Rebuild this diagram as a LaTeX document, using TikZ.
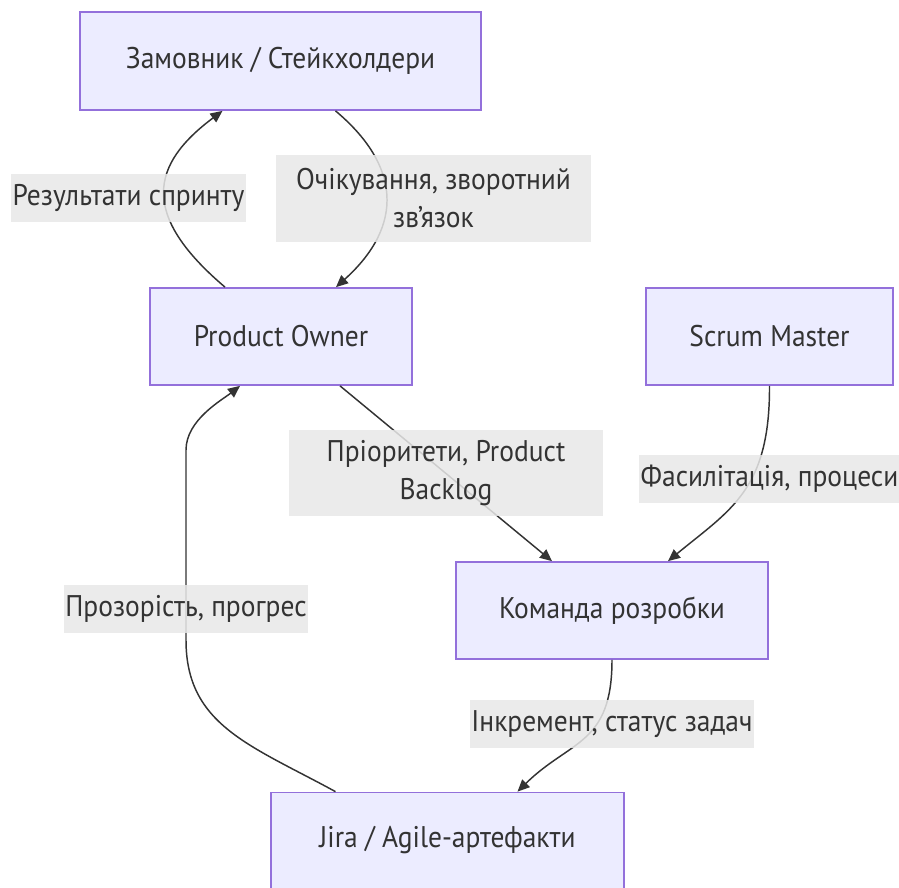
\documentclass[tikz,border=0pt]{standalone}
\usepackage{fontspec}
\setmainfont[FakeStretch=0.92]{PT Sans}
\usetikzlibrary{arrows.meta,calc}
\definecolor{boxfill}{HTML}{ECECFF}
\definecolor{boxdraw}{HTML}{9370DB}
\definecolor{lblfill}{HTML}{E8E8E8}
\definecolor{ink}{HTML}{333333}
\begin{document}
\begin{tikzpicture}[x=0.75pt,y=-0.75pt,
  box/.style={draw=boxdraw, fill=boxfill, line width=1.3pt, inner sep=0pt, text=ink,
    font=\fontsize{22.4}{28.5}\selectfont},
  lbl/.style={fill=lblfill, fill opacity=0.85, text opacity=1, text=ink, inner xsep=1pt, inner ysep=0pt,
    minimum height=36pt, align=center, font=\fontsize{22.4}{28.5}\selectfont},
  lbltwo/.style={lbl, minimum width=236pt, minimum height=65pt},
  conn/.style={draw=ink, line width=1.1pt, -{Triangle[length=9pt,width=8pt]}}
]
\useasboundingbox (0,0) rectangle (899,888);
% boxes
\node[box, minimum width=300.75pt, minimum height=73.5pt] (a) at (280.5,61) {Замовник / Стейкхолдери};
\node[box, minimum width=196.5pt, minimum height=72.75pt] (po) at (281,336.5) {Product Owner};
\node[box, minimum width=185.25pt, minimum height=72.75pt] (sm) at (769.5,336.5) {Scrum Master};
\node[box, minimum width=234pt, minimum height=72.75pt] (dev) at (612,610.5) {Команда розробки};
\node[box, minimum width=264.75pt, minimum height=72pt] (jira) at (447.5,840.5) {Jira / Agile-артефакти};
% connectors
\draw[conn] ($(po.north)+(-56,0)$) .. controls (140,215) and (150,165) .. ($(a.south)+(-58,0)$);
\draw[conn] ($(a.south)+(55,0)$) .. controls (400,165) and (405,225) .. ($(po.north)+(55,0)$);
\draw[conn] ($(po.south)+(59,0)$) -- ($(dev.north)+(-60,0)$);
\draw[conn] (sm.south) .. controls (770,490) and (730,510) .. ($(dev.north)+(56,0)$);
\draw[conn] (dev.south) .. controls (612,745) and (570,740) .. ($(jira.north)+(70,0)$);
\draw[conn] ($(jira.north)+(-112,0)$) .. controls (250,745) and (186,725) .. (186,640)
   -- (186,450) .. controls (186,420) and (222,400) .. ($(po.south)+(-41,0)$);
% labels
\node[lbl] (l1) at (128.5,198) {Результати спринту};
\node[lbltwo] (l2) at (433.5,198.5) {Очікування, зворотний\\зв’язок};
\node[lbltwo] (l3) at (446,473) {Пріоритети, Product\\Backlog};
\node[lbl] (l4) at (769.5,479) {Фасилітація, процеси};
\node[lbl] (l5) at (186,609) {Прозорість, прогрес};
\node[lbl] (l6) at (612,724) {Інкремент, статус задач};
\end{tikzpicture}
\end{document}
